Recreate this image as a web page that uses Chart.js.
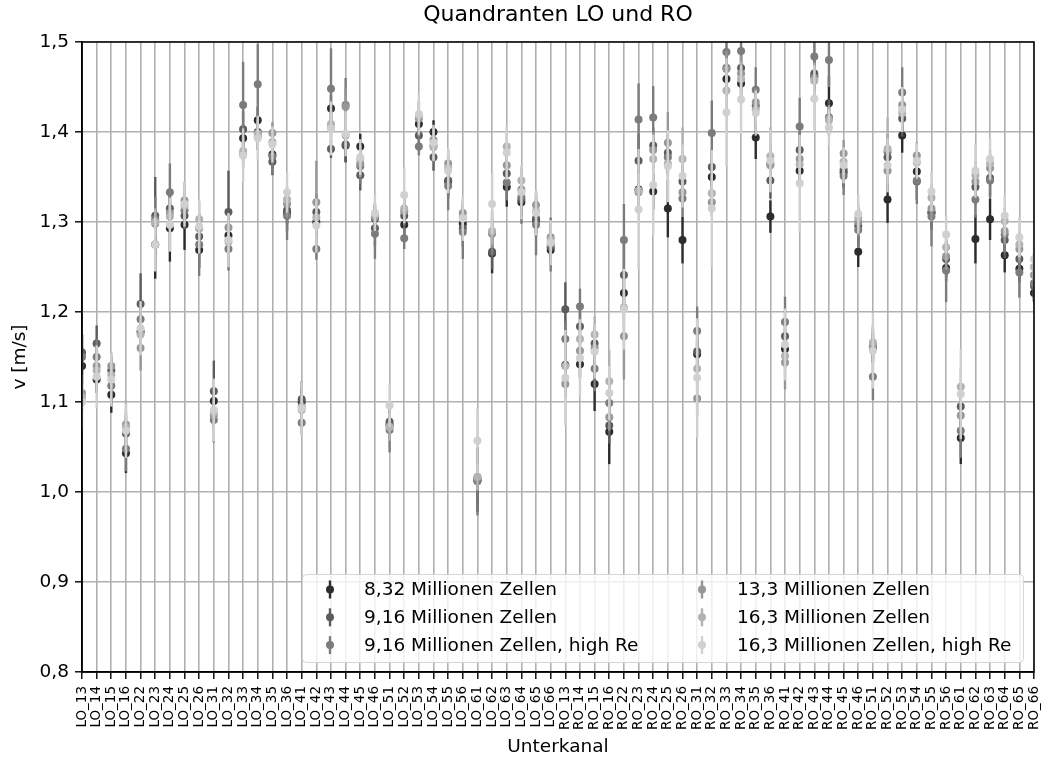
<!DOCTYPE html>
<html lang="de">
<head>
<meta charset="UTF-8">
<title>Quandranten LO und RO</title>
<script src="https://cdn.jsdelivr.net/npm/chart.js"></script>
<style>
    body { margin: 0; background: #fff; }
    canvas { display: block; }
</style>
</head>
<body>
<canvas id="myChart" width="1041" height="760"></canvas>
<script>
    // Unterkanäle (x-Achse)
    const unterkanaele = [
        'LO_13','LO_14','LO_15','LO_16','LO_22','LO_23','LO_24','LO_25','LO_26','LO_31','LO_32',
        'LO_33','LO_34','LO_35','LO_36','LO_41','LO_42','LO_43','LO_44','LO_45','LO_46','LO_51',
        'LO_52','LO_53','LO_54','LO_55','LO_56','LO_61','LO_62','LO_63','LO_64','LO_65','LO_66',
        'RO_13','RO_14','RO_15','RO_16','RO_22','RO_23','RO_24','RO_25','RO_26','RO_31','RO_32',
        'RO_33','RO_34','RO_35','RO_36','RO_41','RO_42','RO_43','RO_44','RO_45','RO_46','RO_51',
        'RO_52','RO_53','RO_54','RO_55','RO_56','RO_61','RO_62','RO_63','RO_64','RO_65','RO_66'
    ];

    // mittlere Geschwindigkeit v [m/s] je Netz
    const v832 = [
        1.140,1.125,1.108,1.043,1.178,1.275,1.293,1.297,1.269,1.101,1.285,1.393,1.413,1.375,1.310,1.100,1.300,
        1.426,1.385,1.384,1.304,1.075,1.297,1.409,1.400,1.345,1.298,1.013,1.265,1.339,1.322,1.302,1.269,
        1.141,1.142,1.120,1.067,1.221,1.336,1.334,1.315,1.280,1.153,1.350,1.459,1.454,1.394,1.306,1.159,1.357,
        1.462,1.432,1.355,1.267,1.160,1.325,1.396,1.356,1.310,1.249,1.060,1.281,1.303,1.263,1.248,1.221
    ];
    const v916 = [
        1.155,1.165,1.135,1.065,1.209,1.307,1.315,1.307,1.284,1.112,1.311,1.403,1.400,1.367,1.313,1.103,1.311,
        1.381,1.386,1.352,1.293,1.078,1.307,1.396,1.372,1.346,1.293,1.015,1.267,1.354,1.325,1.304,1.272,
        1.203,1.184,1.165,1.074,1.241,1.368,1.385,1.377,1.345,1.156,1.361,1.471,1.471,1.429,1.346,1.173,1.380,
        1.465,1.416,1.358,1.296,1.163,1.372,1.415,1.345,1.311,1.259,1.095,1.339,1.349,1.280,1.259,1.229
    ];
    const v916HighRe = [
        1.150,1.150,1.118,1.048,1.192,1.303,1.333,1.313,1.275,1.080,1.270,1.430,1.453,1.373,1.307,1.077,1.270,
        1.448,1.430,1.362,1.287,1.069,1.282,1.384,1.385,1.340,1.289,1.012,1.288,1.344,1.328,1.297,1.275,
        1.170,1.206,1.137,1.099,1.280,1.414,1.416,1.372,1.326,1.179,1.399,1.489,1.490,1.447,1.365,1.189,1.406,
        1.484,1.480,1.351,1.291,1.128,1.378,1.444,1.346,1.306,1.246,1.068,1.325,1.346,1.286,1.244,1.232
    ];
    const v133 = [
        1.110,1.140,1.140,1.075,1.160,1.298,1.310,1.324,1.293,1.085,1.294,1.375,1.395,1.399,1.320,1.095,1.322,
        1.405,1.428,1.365,1.305,1.073,1.312,1.415,1.391,1.365,1.310,1.016,1.287,1.363,1.336,1.319,1.283,
        1.120,1.157,1.160,1.083,1.173,1.333,1.380,1.388,1.333,1.104,1.322,1.470,1.465,1.433,1.363,1.144,1.370,
        1.460,1.415,1.376,1.300,1.162,1.357,1.430,1.374,1.315,1.262,1.085,1.345,1.360,1.290,1.270,1.241
    ];
    const v163 = [
        1.105,1.135,1.130,1.072,1.175,1.300,1.306,1.318,1.303,1.088,1.278,1.379,1.398,1.389,1.325,1.091,1.305,
        1.409,1.396,1.370,1.308,1.072,1.315,1.418,1.383,1.360,1.305,1.017,1.290,1.384,1.346,1.312,1.280,
        1.140,1.170,1.175,1.123,1.205,1.335,1.370,1.365,1.370,1.137,1.332,1.446,1.459,1.425,1.373,1.151,1.364,
        1.457,1.413,1.367,1.305,1.166,1.381,1.421,1.366,1.327,1.272,1.117,1.352,1.365,1.301,1.275,1.250
    ];
    const v163HighRe = [
        1.100,1.128,1.125,1.068,1.182,1.275,1.297,1.320,1.295,1.091,1.280,1.374,1.393,1.386,1.333,1.093,1.296,
        1.404,1.398,1.372,1.310,1.096,1.330,1.420,1.388,1.357,1.304,1.057,1.320,1.377,1.333,1.310,1.277,
        1.127,1.149,1.156,1.110,1.203,1.314,1.341,1.362,1.351,1.127,1.315,1.422,1.436,1.421,1.368,1.164,1.343,
        1.437,1.405,1.363,1.309,1.157,1.363,1.425,1.368,1.334,1.286,1.109,1.357,1.370,1.307,1.283,1.259
    ];

    // Standardabweichung (halbe Fehlerbalkenlänge)
    const err832 = [
        0.020,0.015,0.020,0.022,0.015,0.038,0.037,0.028,0.020,0.015,0.015,0.015,0.015,0.015,0.020,0.015,0.015,
        0.015,0.018,0.014,0.015,0.015,0.015,0.010,0.013,0.015,0.015,0.035,0.022,0.022,0.015,0.015,0.012,
        0.015,0.015,0.030,0.036,0.020,0.020,0.020,0.032,0.026,0.015,0.015,0.020,0.015,0.024,0.018,0.015,0.015,
        0.015,0.030,0.015,0.017,0.015,0.026,0.019,0.015,0.015,0.015,0.029,0.027,0.023,0.019,0.015,0.010
    ];
    const err916 = [
        0.020,0.020,0.015,0.020,0.034,0.043,0.020,0.015,0.020,0.034,0.046,0.020,0.020,0.015,0.015,0.020,0.020,
        0.010,0.020,0.017,0.020,0.015,0.020,0.015,0.015,0.020,0.020,0.030,0.020,0.020,0.020,0.020,0.020,
        0.030,0.020,0.020,0.020,0.040,0.030,0.020,0.020,0.020,0.020,0.020,0.020,0.020,0.020,0.020,0.020,0.020,
        0.020,0.020,0.020,0.020,0.020,0.020,0.020,0.020,0.020,0.020,0.020,0.020,0.020,0.020,0.020,0.015
    ];
    const err916HighRe = [
        0.025,0.020,0.020,0.025,0.020,0.025,0.032,0.020,0.035,0.025,0.024,0.048,0.045,0.020,0.027,0.013,0.012,
        0.045,0.030,0.020,0.028,0.025,0.012,0.010,0.020,0.027,0.030,0.038,0.025,0.020,0.030,0.034,0.030,
        0.020,0.020,0.025,0.030,0.040,0.040,0.035,0.020,0.020,0.027,0.036,0.040,0.040,0.025,0.020,0.028,0.032,
        0.030,0.030,0.021,0.020,0.026,0.020,0.028,0.026,0.033,0.035,0.030,0.020,0.020,0.020,0.028,0.019
    ];
    const err133 = [
        0.015,0.015,0.015,0.015,0.025,0.015,0.015,0.020,0.015,0.015,0.015,0.015,0.015,0.012,0.015,0.015,0.046,
        0.015,0.020,0.015,0.015,0.015,0.015,0.020,0.015,0.015,0.015,0.015,0.015,0.015,0.015,0.015,0.015,
        0.015,0.015,0.015,0.015,0.048,0.020,0.020,0.034,0.015,0.020,0.015,0.020,0.020,0.015,0.015,0.030,0.015,
        0.015,0.015,0.015,0.015,0.015,0.015,0.015,0.015,0.015,0.015,0.015,0.015,0.015,0.015,0.015,0.015
    ];
    const err163 = [
        0.015,0.015,0.015,0.030,0.015,0.015,0.015,0.015,0.020,0.015,0.015,0.015,0.015,0.015,0.015,0.015,0.015,
        0.015,0.015,0.015,0.015,0.015,0.015,0.015,0.015,0.015,0.015,0.015,0.015,0.015,0.015,0.015,0.015,
        0.015,0.015,0.020,0.035,0.020,0.020,0.020,0.020,0.035,0.020,0.020,0.020,0.020,0.015,0.032,0.015,0.015,
        0.020,0.015,0.015,0.015,0.020,0.035,0.015,0.015,0.015,0.015,0.020,0.015,0.015,0.015,0.015,0.015
    ];
    const err163HighRe = [
        0.030,0.035,0.030,0.030,0.030,0.030,0.030,0.025,0.030,0.035,0.030,0.030,0.025,0.020,0.022,0.030,0.030,
        0.030,0.025,0.020,0.020,0.024,0.031,0.023,0.020,0.025,0.025,0.036,0.034,0.030,0.030,0.025,0.025,
        0.053,0.043,0.030,0.030,0.045,0.067,0.056,0.040,0.035,0.066,0.065,0.060,0.038,0.025,0.035,0.040,0.054,
        0.037,0.020,0.020,0.022,0.042,0.030,0.025,0.020,0.022,0.021,0.050,0.030,0.023,0.023,0.022,0.024
    ];

    const netze = [
        { label: '8,32 Millionen Zellen',            werte: v832,       fehler: err832,       farbe: '#2c2c2c' },
        { label: '9,16 Millionen Zellen',            werte: v916,       fehler: err916,       farbe: '#5c5c5c' },
        { label: '9,16 Millionen Zellen, high Re',   werte: v916HighRe, fehler: err916HighRe, farbe: '#7c7c7c' },
        { label: '13,3 Millionen Zellen',            werte: v133,       fehler: err133,       farbe: '#979797' },
        { label: '16,3 Millionen Zellen',            werte: v163,       fehler: err163,       farbe: '#b2b2b2' },
        { label: '16,3 Millionen Zellen, high Re',   werte: v163HighRe, fehler: err163HighRe, farbe: '#d0d0d0' }
    ];

    const FONT = 'DejaVu Sans';

    // vertikale Fehlerbalken, jeweils vor den Punkten des Datensatzes
    const fehlerbalken = {
        id: 'fehlerbalken',
        beforeDatasetDraw(chart, args) {
            const ds = chart.data.datasets[args.index];
            const yScale = chart.scales.y;
            const area = chart.chartArea;
            const ctx = chart.ctx;
            ctx.save();
            ctx.beginPath();
            ctx.rect(area.left, area.top, area.right - area.left, area.bottom - area.top);
            ctx.clip();
            ctx.strokeStyle = ds.borderColor;
            ctx.lineWidth = 2.4;
            args.meta.data.forEach((pt, i) => {
                const v = ds.data[i], e = ds.fehler[i];
                ctx.beginPath();
                ctx.moveTo(pt.x, yScale.getPixelForValue(v - e));
                ctx.lineTo(pt.x, yScale.getPixelForValue(v + e));
                ctx.stroke();
            });
            ctx.restore();
        }
    };

    // Rahmen oben/rechts und Legende im Diagramm
    const rahmenUndLegende = {
        id: 'rahmenUndLegende',
        afterDraw(chart) {
            const ctx = chart.ctx;
            const a = chart.chartArea;
            ctx.save();
            ctx.strokeStyle = '#000';
            ctx.lineWidth = 1.5;
            ctx.strokeRect(a.left, a.top, a.right - a.left, a.bottom - a.top);

            // Legendenkasten
            const bx = 302.5, by = 574.5, bw = 721, bh = 88, r = 4;
            ctx.beginPath();
            ctx.moveTo(bx + r, by);
            ctx.arcTo(bx + bw, by, bx + bw, by + bh, r);
            ctx.arcTo(bx + bw, by + bh, bx, by + bh, r);
            ctx.arcTo(bx, by + bh, bx, by, r);
            ctx.arcTo(bx, by, bx + bw, by, r);
            ctx.closePath();
            ctx.fillStyle = 'rgba(255,255,255,0.8)';
            ctx.fill();
            ctx.strokeStyle = '#d6d6d6';
            ctx.lineWidth = 1;
            ctx.stroke();

            ctx.font = '18.5px "' + FONT + '"';
            ctx.textBaseline = 'middle';
            ctx.textAlign = 'left';
            chart.data.datasets.forEach((ds, i) => {
                const col = i < 3 ? 0 : 1;
                const row = i % 3;
                const mx = col === 0 ? 330 : 702;
                const my = 589.5 + row * 27.8;
                ctx.strokeStyle = ds.borderColor;
                ctx.lineWidth = 2.4;
                ctx.beginPath();
                ctx.moveTo(mx, my - 9);
                ctx.lineTo(mx, my + 9);
                ctx.stroke();
                ctx.fillStyle = ds.backgroundColor;
                ctx.beginPath();
                ctx.arc(mx, my, 4, 0, Math.PI * 2);
                ctx.fill();
                ctx.fillStyle = '#000';
                ctx.fillText(ds.label, col === 0 ? 364 : 737, my + 1);
            });
            ctx.restore();
        }
    };

    const datasets = netze.map((n, i) => ({
        label: n.label,
        data: n.werte,
        fehler: n.fehler,
        showLine: false,
        borderColor: n.farbe,
        backgroundColor: n.farbe,
        pointRadius: 4,
        pointHoverRadius: 4,
        pointBorderWidth: 0,
        order: netze.length - i,
        clip: 0
    }));

    new Chart(document.getElementById('myChart'), {
        type: 'line',
        data: { labels: unterkanaele, datasets: datasets },
        plugins: [fehlerbalken, rahmenUndLegende],
        options: {
            responsive: false,
            animation: false,
            devicePixelRatio: 1,
            layout: { padding: { left: 0, right: 7, top: 0, bottom: 0 } },
            plugins: {
                legend: { display: false },
                tooltip: { enabled: false },
                title: {
                    display: true,
                    fullSize: false,
                    text: 'Quandranten LO und RO',
                    color: '#000',
                    font: { family: FONT, size: 22, weight: 'normal' },
                    padding: { top: 2, bottom: 13.6 }
                }
            },
            scales: {
                x: {
                    type: 'category',
                    offset: false,
                    afterFit(scale) {
                        scale.height = 88;
                        scale.paddingLeft = 0;
                        scale.paddingRight = 0;
                    },
                    grid: {
                        color: '#b0b0b0',
                        lineWidth: 1.6,
                        tickColor: '#000',
                        tickWidth: 1.4,
                        tickLength: 7
                    },
                    border: { color: '#000', width: 1.5 },
                    ticks: {
                        autoSkip: false,
                        minRotation: 90,
                        maxRotation: 90,
                        padding: 7,
                        color: '#000',
                        font: { family: FONT, size: 13.5 }
                    },
                    title: {
                        display: true,
                        text: 'Unterkanal',
                        color: '#000',
                        font: { family: FONT, size: 18.5 },
                        padding: { top: 0, bottom: 2 }
                    }
                },
                y: {
                    min: 0.8,
                    max: 1.5,
                    afterFit(scale) {
                        scale.width = 82;
                    },
                    grid: {
                        color: '#b0b0b0',
                        lineWidth: 1.6,
                        tickColor: '#000',
                        tickWidth: 1.4,
                        tickLength: 7
                    },
                    border: { color: '#000', width: 1.5 },
                    ticks: {
                        stepSize: 0.1,
                        padding: 6,
                        color: '#000',
                        font: { family: FONT, size: 18.5 },
                        callback: (v) => v.toFixed(1).replace('.', ',')
                    },
                    title: {
                        display: true,
                        text: 'v [m/s]',
                        color: '#000',
                        font: { family: FONT, size: 18.5 },
                        padding: { top: 9, bottom: 0 }
                    }
                }
            }
        }
    });
</script>
</body>
</html>
